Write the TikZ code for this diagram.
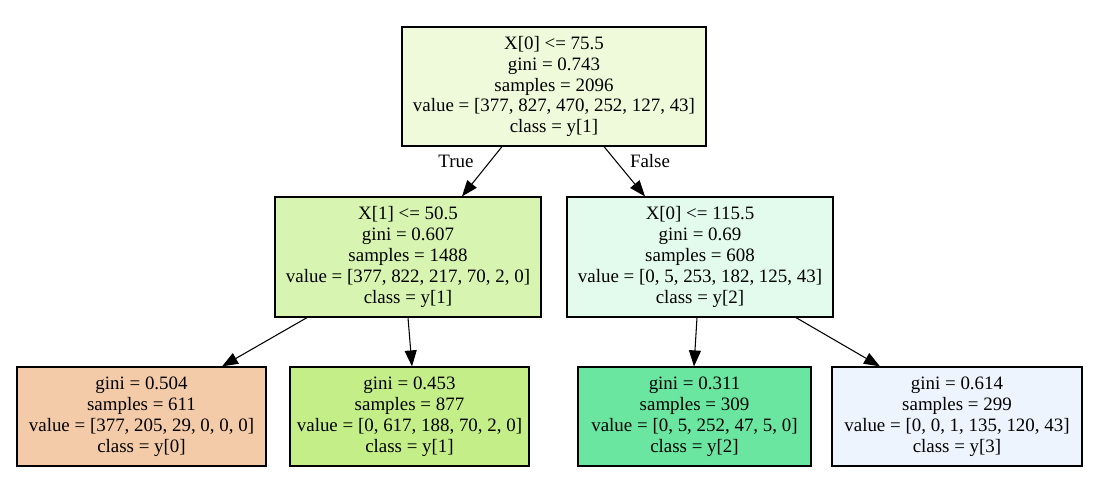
\documentclass[tikz,border=0pt]{standalone}
\usepackage{fontspec}
\setmainfont{Liberation Serif}
\usetikzlibrary{arrows.meta}
\definecolor{c0}{HTML}{EEFAD9}
\definecolor{c1}{HTML}{D7F4B1}
\definecolor{c2}{HTML}{E3FBEC}
\definecolor{c3}{HTML}{F4CBA8}
\definecolor{c4}{HTML}{C4EE87}
\definecolor{c5}{HTML}{6BE6A0}
\definecolor{c6}{HTML}{EEF4FD}
\begin{document}
\begin{tikzpicture}[x=0.75pt,y=-0.75pt,
  box/.style={draw=black,line width=0.9pt,align=center,inner sep=0pt,
    font=\fontsize{14.2}{15.7}\selectfont},
  edge/.style={-{Triangle[length=12pt,width=9pt]},line width=0.8pt},
  lab/.style={font=\fontsize{14.2}{15.7}\selectfont}]
\useasboundingbox (0,0) rectangle (1101,478);
\node[box,fill=c0,minimum width=304*0.75pt,minimum height=119*0.75pt] (r) at (554,86.5)
 {X[0] <= 75.5\\gini = 0.743\\samples = 2096\\value = [377, 827, 470, 252, 127, 43]\\class = y[1]};
\node[box,fill=c1,minimum width=266*0.75pt,minimum height=120*0.75pt] (a) at (408,257)
 {X[1] <= 50.5\\gini = 0.607\\samples = 1488\\value = [377, 822, 217, 70, 2, 0]\\class = y[1]};
\node[box,fill=c2,minimum width=266*0.75pt,minimum height=120*0.75pt] (b) at (700,257)
 {X[0] <= 115.5\\gini = 0.69\\samples = 608\\value = [0, 5, 253, 182, 125, 43]\\class = y[2]};
\node[box,fill=c3,minimum width=249*0.75pt,minimum height=99*0.75pt] (l1) at (141.5,416.5)
 {gini = 0.504\\samples = 611\\value = [377, 205, 29, 0, 0, 0]\\class = y[0]};
\node[box,fill=c4,minimum width=239*0.75pt,minimum height=99*0.75pt] (l2) at (409.5,416.5)
 {gini = 0.453\\samples = 877\\value = [0, 617, 188, 70, 2, 0]\\class = y[1]};
\node[box,fill=c5,minimum width=233*0.75pt,minimum height=99*0.75pt] (l3) at (694.5,416.5)
 {gini = 0.311\\samples = 309\\value = [0, 5, 252, 47, 5, 0]\\class = y[2]};
\node[box,fill=c6,minimum width=250*0.75pt,minimum height=99*0.75pt] (l4) at (957,416.5)
 {gini = 0.614\\samples = 299\\value = [0, 0, 1, 135, 120, 43]\\class = y[3]};
\draw[edge] (r.south -| 502,0) -- (a.north -| 462,0);
\draw[edge] (r.south -| 604,0) -- (b.north -| 645,0);
\draw[edge] (a.south -| 307,0) -- (l1.north -| 222,0);
\draw[edge] (a.south -| 408,0) -- (l2.north -| 412,0);
\draw[edge] (b.south -| 697,0) -- (l3.north -| 694,0);
\draw[edge] (b.south -| 796,0) -- (l4.north -| 880,0);
\node[lab] (t) at (456,161) {True};
\node[lab] (f) at (650,161) {False};
\end{tikzpicture}
\end{document}
